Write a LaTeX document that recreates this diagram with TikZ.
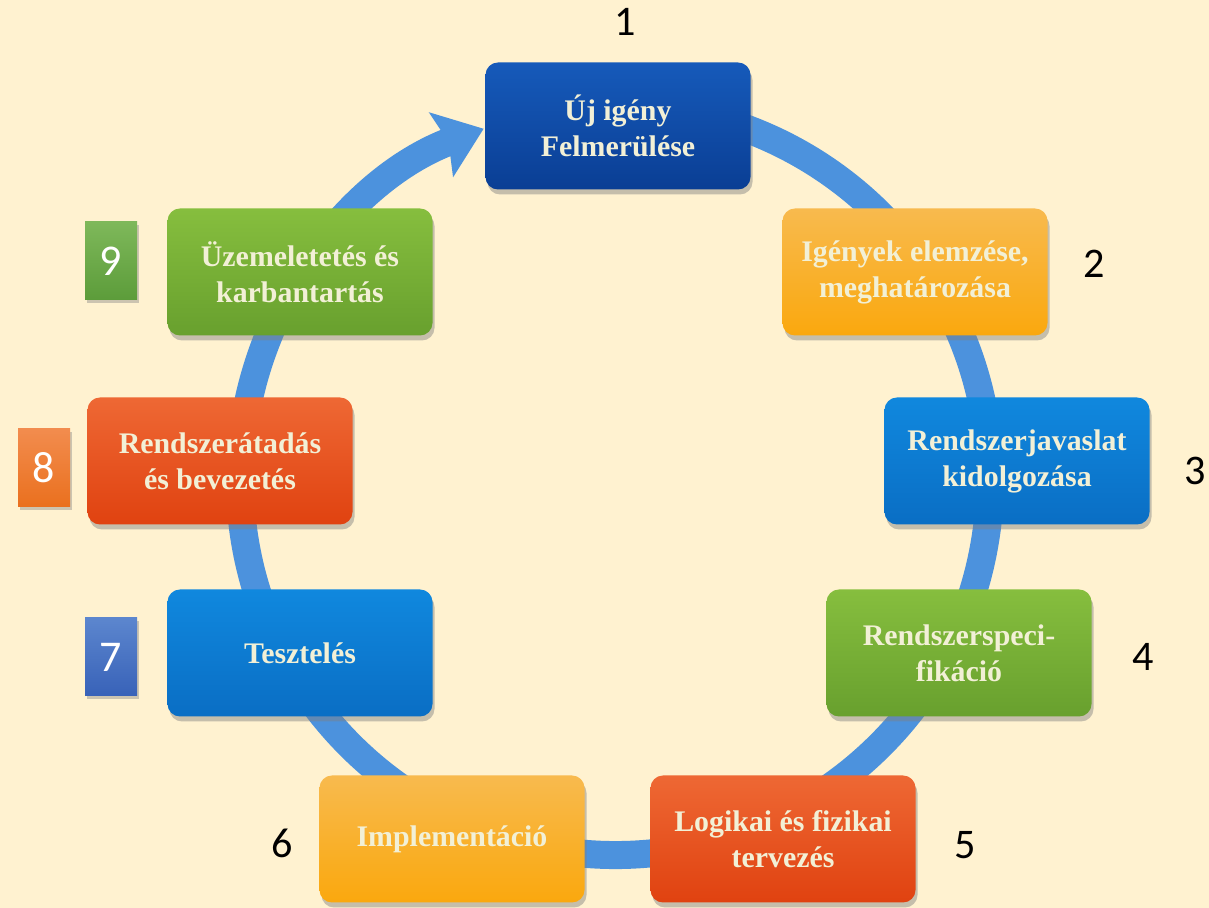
\documentclass[tikz,border=0pt]{standalone}
\usepackage{fontspec}
\setmainfont{Liberation Serif}
\newfontfamily\numfont{Carlito}
\usetikzlibrary{positioning,shadows,arrows.meta}

\definecolor{paper}{RGB}{255,242,208}
\definecolor{ringblue}{RGB}{76,146,221}
\definecolor{phasetext}{RGB}{242,240,214}
\definecolor{navyTop}{RGB}{22,90,186}
\definecolor{navyBot}{RGB}{10,62,148}
\definecolor{amberTop}{RGB}{248,186,78}
\definecolor{amberBot}{RGB}{250,168,14}
\definecolor{skyTop}{RGB}{16,136,222}
\definecolor{skyBot}{RGB}{10,110,196}
\definecolor{leafTop}{RGB}{134,190,62}
\definecolor{leafBot}{RGB}{104,160,46}
\definecolor{emberTop}{RGB}{238,104,52}
\definecolor{emberBot}{RGB}{224,66,16}

\begin{document}
\begin{tikzpicture}[
        phase/.style={rectangle, draw=none, rounded corners=2.5mm, minimum width=5.3cm, minimum height=2.54cm,
            align=center, text=phasetext, font=\bfseries\fontsize{17}{20.5}\selectfont,
            drop shadow={opacity=0.45, shadow xshift=0.04cm, shadow yshift=-0.1cm}},
        num/.style={font=\numfont\fontsize{24}{28}\selectfont, text=black},
        tag/.style={rectangle, draw=none, minimum width=1.04cm, minimum height=1.56cm, text=white,
            font=\numfont\fontsize{25}{28}\selectfont,
            drop shadow={opacity=0.4, shadow xshift=0.04cm, shadow yshift=-0.06cm}},
        ring/.style={ringblue, line width=0.56cm, -{Stealth[width=1.35cm,length=0.9cm,inset=0.15cm]}}
    ]
    \fill[paper] (0,0) rectangle (24.18,18.16);
    \useasboundingbox (0,0) rectangle (24.18,18.16);

    % the cycle
    \coordinate (Hub) at (12.30,8.56);
    \draw[ring] (Hub) ++(80:7.5) arc[start angle=80, end angle=-249.5, radius=7.5];

    % phases
    \node (Phase01) [phase, top color=navyTop, bottom color=navyBot] at (12.36,15.64) {Új igény\\Felmerülése};
    \node (Phase02) [phase, top color=amberTop, bottom color=amberBot] at (18.30,12.72) {Igények elemzése,\\meghatározása};
    \node (Phase03) [phase, top color=skyTop, bottom color=skyBot] at (20.34,8.94) {Rendszerjavaslat\\kidolgozása};
    \node (Phase04) [phase, top color=leafTop, bottom color=leafBot] at (19.18,5.10) {Rendszerspeci-\\fikáció};
    \node (Phase05) [phase, top color=emberTop, bottom color=emberBot] at (15.66,1.38) {Logikai és fizikai\\tervezés};
    \node (Phase06) [phase, top color=amberTop, bottom color=amberBot] at (9.04,1.38) {Implementáció};
    \node (Phase07) [phase, top color=skyTop, bottom color=skyBot] at (6.00,5.10) {Tesztelés};
    \node (Phase08) [phase, top color=emberTop, bottom color=emberBot] at (4.40,8.94) {Rendszerátadás\\és bevezetés};
    \node (Phase09) [phase, top color=leafTop, bottom color=leafBot] at (6.00,12.72) {Üzemeletetés és\\karbantartás};

    % numbers
    \node (Num01) [num] at (12.50,17.72) {1};
    \node (Num02) [num] at (21.88,12.88) {2};
    \node (Num03) [num] at (23.90,8.74) {3};
    \node (Num04) [num] at (22.86,5.02) {4};
    \node (Num05) [num] at (19.30,1.26) {5};
    \node (Num06) [num] at (5.64,1.30) {6};
    \node (Num07) [tag, top color={rgb,255:red,92;green,134;blue,206}, bottom color={rgb,255:red,56;green,98;blue,184}] at (2.22,5.02) {7};
    \node (Num08) [tag, top color={rgb,255:red,242;green,140;blue,78}, bottom color={rgb,255:red,234;green,112;blue,30}] at (0.88,8.80) {8};
    \node (Num09) [tag, top color={rgb,255:red,126;green,184;blue,90}, bottom color={rgb,255:red,92;green,156;blue,58}] at (2.22,12.94) {9};
\end{tikzpicture}
\end{document}
